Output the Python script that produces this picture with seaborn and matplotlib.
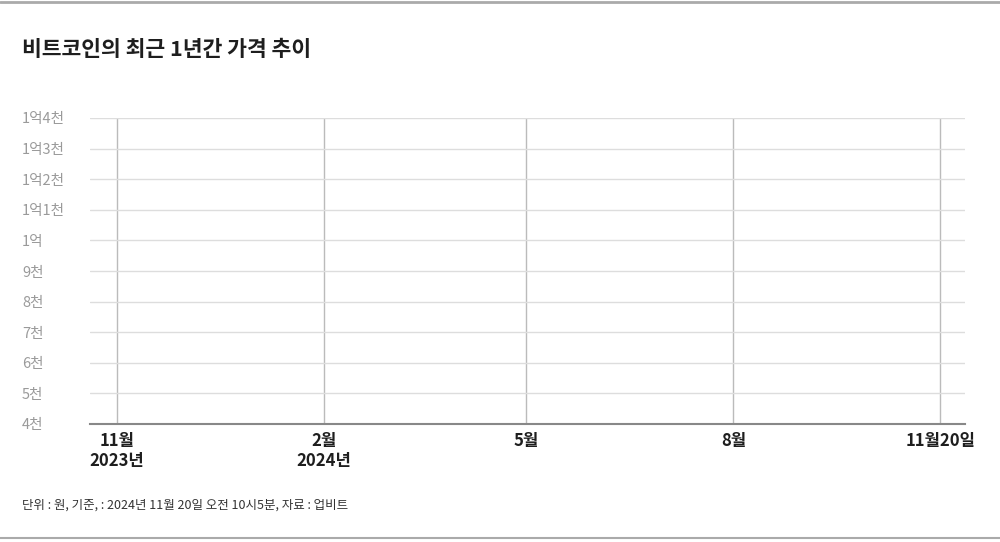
import numpy as np
import pandas as pd
import matplotlib
matplotlib.use('Agg')
import matplotlib.pyplot as plt
from matplotlib.lines import Line2D
import seaborn as sns

sns.set_style('white')
plt.rcParams['font.family'] = ['Noto Sans CJK KR', 'DejaVu Sans']

# chart values
title = '비트코인의 최근 1년간 가격 추이'
note = '단위 : 원, 기준, : 2024년 11월 20일 오전 10시5분, 자료 : 업비트'
y_ticks = [40e6, 50e6, 60e6, 70e6, 80e6, 90e6, 100e6, 110e6, 120e6, 130e6, 140e6]
y_labels = ['4천', '5천', '6천', '7천', '8천', '9천', '1억', '1억1천', '1억2천', '1억3천', '1억4천']
x_dates = ['2023-11-20', '2024-02-20', '2024-05-20', '2024-08-20', '2024-11-20']
x_labels = ['11월\n2023년', '2월\n2024년', '5월', '8월', '11월20일']
x_range = ['2023-11-08', '2024-12-01']

fig = plt.figure(figsize=(10, 5.42), dpi=100)
ax = fig.add_axes([0.090, 1 - 424 / 542, 0.875, 306 / 542])

ax.set_xlim(pd.to_datetime(x_range[0]), pd.to_datetime(x_range[1]))
ax.set_ylim(y_ticks[0], y_ticks[-1])

ax.set_yticks(y_ticks)
ax.set_yticklabels(y_labels)
ax.set_xticks(pd.to_datetime(x_dates))
ax.set_xticklabels(x_labels)

ax.tick_params(axis='y', length=0, pad=49, labelsize=10.5, labelcolor='#9a9a9a')
for lbl in ax.get_yticklabels():
    lbl.set_horizontalalignment('left')
ax.tick_params(axis='x', length=0, pad=6, labelsize=12, labelcolor='#1e1e1e')
for lbl in ax.get_xticklabels():
    lbl.set_linespacing(1.15)
    lbl.set_fontweight('bold')

ax.grid(axis='y', color='#dddddd', lw=1)
ax.grid(axis='x', color='#bbbbbb', lw=1)
ax.set_axisbelow(True)
for s in ['top', 'right', 'left']:
    ax.spines[s].set_visible(False)
ax.spines['bottom'].set_color('#888888')
ax.spines['bottom'].set_linewidth(1.5)

fig.text(0.022, 1 - 50 / 542, title, fontsize=15.5, fontweight='bold',
         color='#1e1e1e', va='center', ha='left')
fig.text(0.022, 1 - 505 / 542, note, fontsize=9, color='#333333',
         va='center', ha='left')

fig.add_artist(Line2D([0, 1], [1 - 2 / 542, 1 - 2 / 542], color='#aaaaaa', lw=2))
fig.add_artist(Line2D([0, 1], [1 - 538 / 542, 1 - 538 / 542], color='#aaaaaa', lw=1.5))

fig.savefig('out.png', dpi=100, facecolor='white')
